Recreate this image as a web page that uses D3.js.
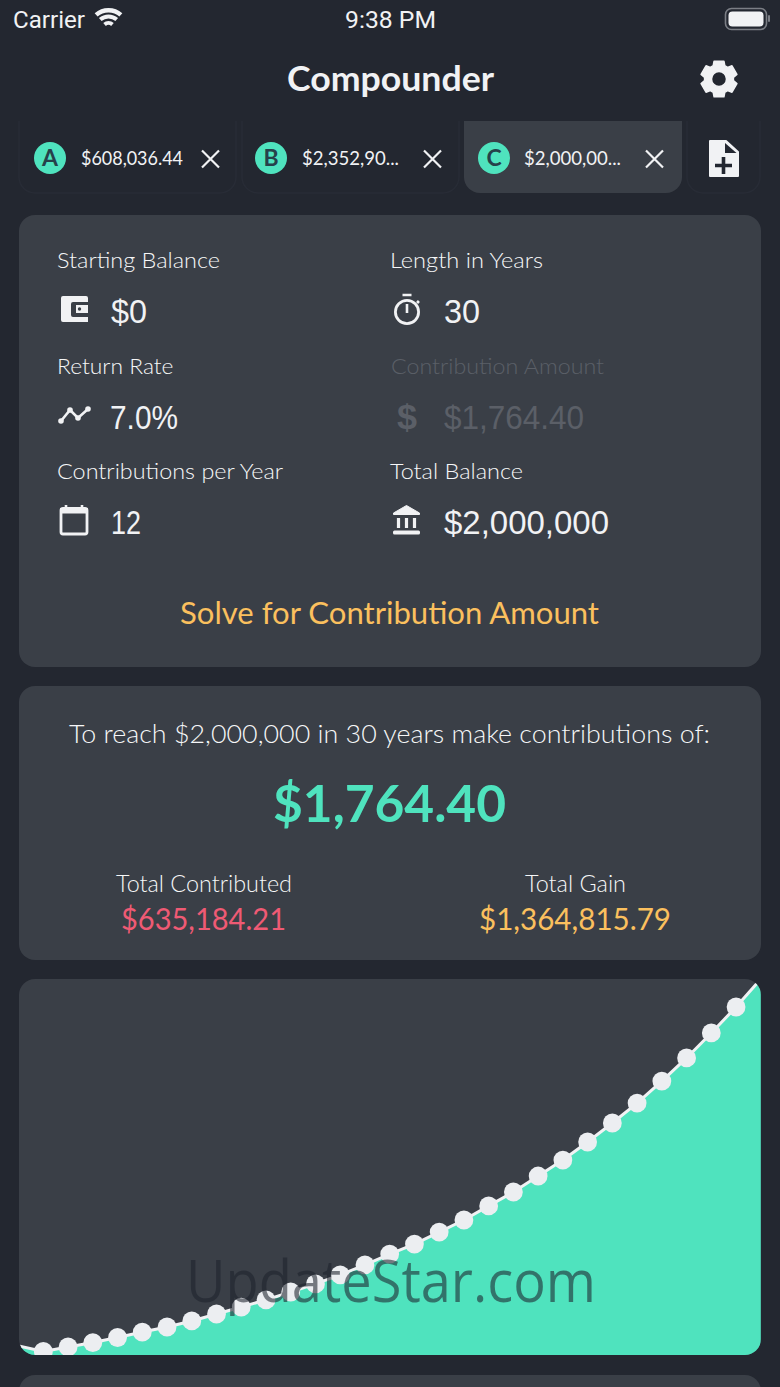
<!DOCTYPE html>
<html><head><meta charset="utf-8">
<script src="https://cdn.jsdelivr.net/npm/d3@7"></script>
<style>html,body{margin:0;padding:0;background:#232730;overflow:hidden}svg{display:block}</style>
</head><body><svg id="app" width="780" height="1387" viewBox="0 0 780 1387"></svg>
<script>
// Chart data
const years = [0,1,2,3,4,5,6,7,8,9,10,11,12,13,14,15,16,17,18,19,20,21,22,23,24,25,26,27,28,29,30];
const balances = [48000,19000,43000,66000,93000,122000,149000,181000,218000,255000,293000,335000,378000,426000,479000,537000,590000,654000,718000,793000,867000,952000,1037000,1133000,1234000,1340000,1457000,1580000,1713000,1851000,2000000];
const tabLetters = ["A","B","C"];
const tabAmounts = ["$608,036.44","$2,352,90...","$2,000,00..."];

const BG="#232730",CARD="#3a3f47",TEAL="#4fe3be",WHITE="#f1f2f4",AMBER="#fbc05e",RED="#ef5a74",DIM="#5b5f67";
const svg=d3.select("#app");
svg.append("rect").attr("width",780).attr("height",1387).attr("fill",BG);
const LATO="Lato, sans-serif",HEL="'Liberation Sans', Arial, sans-serif",ROB="Roboto, sans-serif";
function t(s,x0,x1,base,size,font,weight,color){
  return svg.append("text").text(s).attr("x",x0).attr("y",base)
    .attr("textLength",x1-x0).attr("lengthAdjust","spacingAndGlyphs")
    .style("font-family",font).style("font-size",size+"px").style("font-weight",weight).attr("fill",color);
}
function card(y0,y1){svg.append("rect").attr("x",19).attr("y",y0).attr("width",742).attr("height",y1-y0).attr("rx",16).attr("fill",CARD);}

// status bar
t("Carrier",13,85,28,23,ROB,400,WHITE);
t("9:38 PM",345,436,28,24,ROB,400,WHITE);
const wifi=svg.append("g").attr("transform","translate(108.5,29)").attr("fill",WHITE);
[[21,16.5],[14.5,10.5],[8,4]].forEach(([a,b])=>wifi.append("path").attr("d",d3.arc().innerRadius(b).outerRadius(a).startAngle(-0.72).endAngle(0.72)()));
svg.append("rect").attr("x",725.5).attr("y",8.5).attr("width",41).attr("height",21).attr("rx",6).attr("fill","none").attr("stroke","#7b7e85").attr("stroke-width",1.6);
svg.append("rect").attr("x",728.5).attr("y",11.5).attr("width",35).attr("height",15).attr("rx",4).attr("fill",WHITE);
svg.append("rect").attr("x",768).attr("y",15).attr("width",2).attr("height",7).attr("rx",1).attr("fill","#7b7e85");

// header
t("Compounder",287,494,91,35,LATO,700,WHITE);
const gear=[];const teeth=6;
for(let i=0;i<teeth;i++){const a=i*2*Math.PI/teeth-Math.PI/2,w=0.27,g=0.14;
  [[18.5,a-w],[18.5,a+w],[14.5,a+w+g],[14.5,a+Math.PI/teeth*2-w-g]].forEach(([r,b])=>gear.push([719+r*Math.cos(b),79+r*Math.sin(b)]));}
svg.append("path").attr("fill-rule","evenodd").attr("fill",WHITE).attr("stroke",WHITE).attr("stroke-width",1.5).attr("stroke-linejoin","round")
  .attr("d",d3.line()(gear)+"Z M726.5,79 A7.5,7.5 0 1 0 711.5,79 A7.5,7.5 0 1 0 726.5,79 Z");

// tabs
const tabClip=svg.append("clipPath").attr("id","tabClip");
tabClip.append("rect").attr("x",0).attr("y",121).attr("width",780).attr("height",80);
const tabs=svg.append("g").attr("clip-path","url(#tabClip)");
[[19,236,0],[242,459,0],[464,682,1],[687,760,0]].forEach(([a,b,sel])=>{
  tabs.append("rect").attr("x",a).attr("y",90).attr("width",b-a).attr("height",103).attr("rx",16)
    .attr("fill",sel?CARD:BG).attr("stroke",sel?"none":"#282c36").attr("stroke-width",1.5);
});
const tabX=[[50,81,183,210.5],[271,302,399,432.5],[494,524,621,654.5]];
tabLetters.forEach((l,i)=>{
  const [c,a,b,x]=tabX[i];
  svg.append("circle").attr("cx",c).attr("cy",158).attr("r",16).attr("fill",TEAL);
  svg.append("text").text(l).attr("x",c).attr("y",166).attr("text-anchor","middle").style("font-family",LATO).style("font-size","23px").style("font-weight",700).attr("fill","#26414a");
  t(tabAmounts[i],a,b,164.5,18.5,LATO,400,WHITE);
  svg.append("path").attr("d",`M${x-8.5},${150.5}L${x+8.5},${167.5}M${x+8.5},${150.5}L${x-8.5},${167.5}`).attr("stroke",WHITE).attr("stroke-width",2.2).attr("fill","none");
});
// new file icon
svg.append("path").attr("fill",WHITE).attr("stroke",WHITE).attr("stroke-width",2).attr("stroke-linejoin","round").attr("d","M710,141H726L738,152V176H710Z");
svg.append("path").attr("fill",BG).attr("d","M725,143L736.5,153H725Z");
svg.append("path").attr("stroke",BG).attr("stroke-width",3.6).attr("d","M715,165.5H732M723.5,157V174");

// input card
const LB="#f6f7f8";
card(215,667);
t("Starting Balance",57,220,268,22,LATO,300,LB);
t("Length in Years",390,543,268,22,LATO,300,LB);
t("Return Rate",57,173.5,373.5,22,LATO,300,LB);
t("Contribution Amount",391,604,373.5,22,LATO,300,DIM);
t("Contributions per Year",57,283,479,22,LATO,300,LB);
t("Total Balance",390,523,479,22,LATO,300,LB);
t("$0",111,147,323,34,HEL,400,WHITE);
t("30",444,480,323,34,HEL,400,WHITE);
t("7.0%",110,178,429,34,HEL,400,WHITE);
t("$1,764.40",444,584,429,34,HEL,400,DIM);
t("12",111,141,534,34,HEL,400,WHITE);
t("$2,000,000",444,609,534,34,HEL,400,WHITE);
t("$",397,417,429,35,HEL,700,DIM);
// wallet
svg.append("path").attr("fill",WHITE).attr("fill-rule","evenodd").attr("d","M63,296H86a2,2 0 0 1 2,2V322H63a2,2 0 0 1 -2,-2V298a2,2 0 0 1 2,-2Z M88,302H73a2,2 0 0 0 -2,2V315a2,2 0 0 0 2,2H88V313H76V305H88Z");
svg.append("rect").attr("x",76).attr("y",305).attr("width",12).attr("height",8).attr("fill",WHITE);
svg.append("circle").attr("cx",79.5).attr("cy",309).attr("r",1.7).attr("fill",CARD);
// trend
const tr=[[61,421],[70,410],[78,418],[88,409]];
svg.append("path").attr("d",d3.line()(tr)).attr("fill","none").attr("stroke",WHITE).attr("stroke-width",2.6);
tr.forEach(p=>svg.append("circle").attr("cx",p[0]).attr("cy",p[1]).attr("r",2.8).attr("fill",WHITE));
// calendar
svg.append("rect").attr("x",61).attr("y",508.5).attr("width",26).attr("height",25.5).attr("rx",2).attr("fill","none").attr("stroke",WHITE).attr("stroke-width",2.8);
svg.append("rect").attr("x",60).attr("y",508).attr("width",28).attr("height",5.5).attr("fill",WHITE);
svg.append("path").attr("d","M66,505V509M82,505V509").attr("stroke",WHITE).attr("stroke-width",2.6);
// stopwatch
svg.append("circle").attr("cx",407).attr("cy",312).attr("r",11.6).attr("fill","none").attr("stroke",WHITE).attr("stroke-width",2.8);
svg.append("path").attr("d","M402.5,295H411.5M407,304V313M417,301L419,303").attr("stroke",WHITE).attr("stroke-width",2.6).attr("fill","none");
// bank
svg.append("path").attr("fill",WHITE).attr("stroke",WHITE).attr("stroke-width",1).attr("stroke-linejoin","round").attr("d","M406.5,505.5L419.5,513V514.5H393.5V513Z");
svg.append("path").attr("stroke",WHITE).attr("stroke-width",3.2).attr("d","M398.5,518V528M406.5,518V528M414.5,518V528");
svg.append("rect").attr("x",393).attr("y",530.5).attr("width",27).attr("height",4).attr("rx",1.5).attr("fill",WHITE);
t("Solve for Contribution Amount",180,599,623.5,30,LATO,400,AMBER);

// result card
card(686,960);
t("To reach $2,000,000 in 30 years make contributions of:",69,710,743,26,LATO,300,LB);
t("$1,764.40",273,506,821.5,52,LATO,700,TEAL);
t("Total Contributed",116,292,892,23,LATO,300,LB);
t("Total Gain",525,626,892,23,LATO,300,LB);
t("$635,184.21",121,286,929.5,31,LATO,400,RED);
t("$1,364,815.79",479,671,929.5,31,LATO,400,AMBER);

// chart card
card(979,1355);
card(1375,1440);
const x=d3.scaleLinear().domain([0,30]).range([18.6,760.8]);
const y=d3.scaleLinear().domain([0,2000000]).range([1355,979]);
const rows=years.map((yr,i)=>({yr,v:balances[i]}));
svg.append("clipPath").attr("id","chartClip").append("rect").attr("x",19).attr("y",979).attr("width",742).attr("height",376).attr("rx",16);
const chart=svg.append("g").attr("clip-path","url(#chartClip)");
chart.append("path").datum(rows).attr("fill",TEAL)
  .attr("d",d3.area().x(d=>x(d.yr)).y0(y(0)).y1(d=>y(d.v)));
chart.append("path").datum(rows).attr("fill","none").attr("stroke",WHITE).attr("stroke-width",3)
  .attr("d",d3.line().x(d=>x(d.yr)).y(d=>y(d.v)));
chart.selectAll("circle").data(rows.slice(1,-1)).join("circle")
  .attr("cx",d=>x(d.yr)).attr("cy",d=>y(d.v)).attr("r",9.4).attr("fill","#eceef1");

// watermark
t("UpdateStar.com",186,596,1302,58,"'Open Sans', sans-serif",400,"rgba(30,35,45,0.58)");
</script></body></html>
